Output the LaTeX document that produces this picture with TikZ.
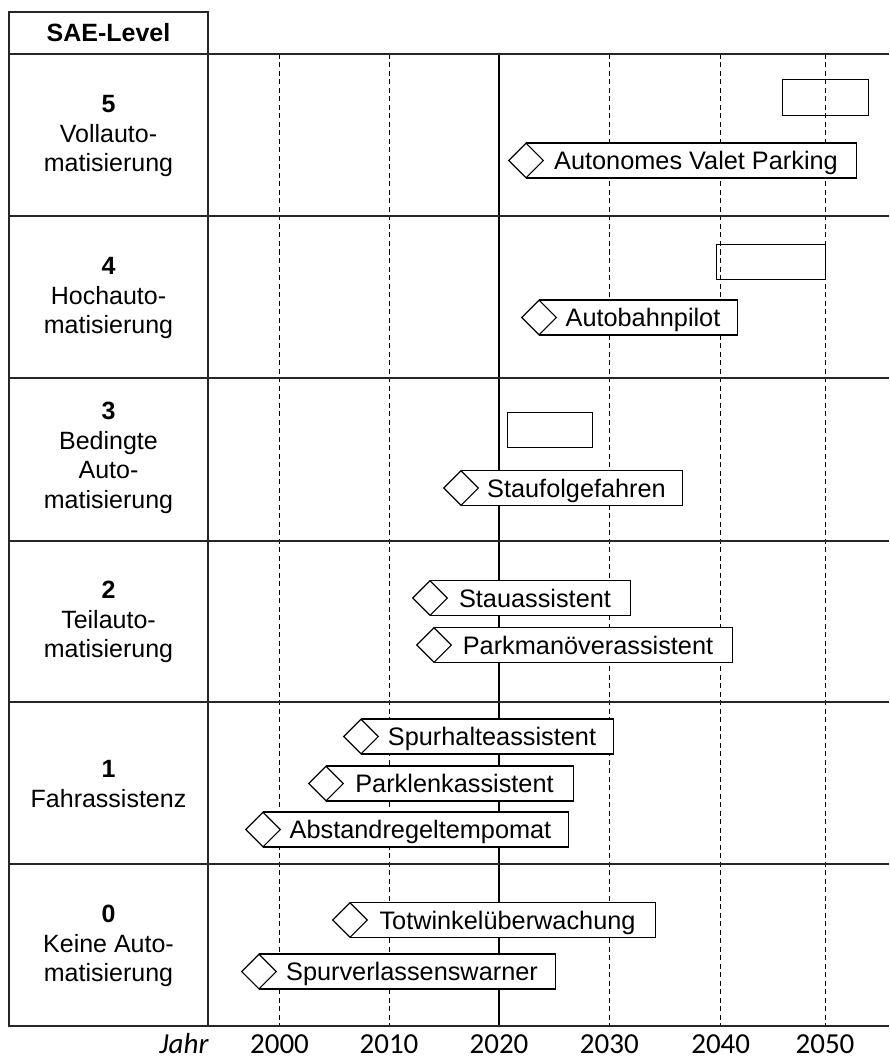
\documentclass[tikz,border=0pt]{standalone}
\usepackage{fontspec}
\setmainfont{Liberation Sans}
\newfontfamily\calib{Carlito}
\usetikzlibrary{shapes.geometric}
\newcommand\gbar[5]{%
  \node[bar, minimum width={#3-#2}] (#1) at (#2,#4) {};
  \node[bartext] (#1t) at ({(#2+#3)/2+5},{#4+9}) {#5};
  \node[mile] (#1d) at (#1.west) {};
}
\begin{document}
\begin{tikzpicture}[x=1pt,y=-1pt,
  frame/.style={line width=1.4pt, draw=black!85},
  gridd/.style={line width=1pt, dash pattern=on 5pt off 3.5pt},
  gridsolid/.style={line width=1.1pt},
  bar/.style={draw, fill=white, line width=1.2pt, minimum height=35pt, inner sep=0pt, anchor=west},
  mile/.style={diamond, draw, fill=white, line width=1.1pt, minimum width=35pt, minimum height=35pt, inner sep=0pt},
  bartext/.style={font=\fontsize{25.3}{29}\selectfont, inner sep=0pt, anchor=base},
  future/.style={draw, line width=1.2pt, inner sep=0pt, anchor=north west},
  lvl/.style={font=\fontsize{25}{29.5}\selectfont, align=center},
  yr/.style={font=\calib\fontsize{29}{32}\selectfont, anchor=base, inner sep=0pt}
]
\useasboundingbox (0,0) rectangle (889,1059);
% grid
\foreach \x in {279.5,389,609.3,720.7,825}{
  \draw[gridd] (\x,54) -- (\x,1026);
}
\draw[gridsolid] (499,54) -- (499,1026);
% frame
\draw[frame] (9,12) rectangle (208,1026);
\foreach \y in {54,216,378,541,702,864,1026}{
  \draw[frame] (9,\y) -- (889,\y);
}
% header and level labels
\node[font=\fontsize{25}{29}\selectfont\bfseries] (hdr) at (108.5,33) {SAE-Level};
\node[lvl] (l5) at (108.5,136) {\textbf{5}\\Vollauto-\\matisierung};
\node[lvl] (l4) at (108.5,298) {\textbf{4}\\Hochauto-\\matisierung};
\node[lvl] (l3) at (108.5,458) {\textbf{3}\\Bedingte\\Auto-\\matisierung};
\node[lvl] (l2) at (108.5,622) {\textbf{2}\\Teilauto-\\matisierung};
\node[lvl] (l1) at (108.5,784) {\textbf{1}\\Fahrassistenz};
\node[lvl] (l0) at (108.5,946) {\textbf{0}\\Keine Auto-\\matisierung};
% future boxes
\node[future, minimum width=86pt, minimum height=36pt] (f5) at (782,79) {};
\node[future, minimum width=109pt, minimum height=35pt] (f4) at (716,244) {};
\node[future, minimum width=85pt, minimum height=35pt] (f3) at (507,412) {};
% bars
\gbar{b1}{526}{856}{160.5}{Autonomes Valet Parking}
\gbar{b2}{539}{737}{317.5}{Autobahnpilot}
\gbar{b3}{461}{682}{488}{Staufolgefahren}
\gbar{b4}{430}{630}{598}{Stauassistent}
\gbar{b5}{434}{732}{645}{Parkmanöverassistent}
\gbar{b6}{361}{613}{736.5}{Spurhalteassistent}
\gbar{b7}{326}{573}{783.5}{Parklenkassistent}
\gbar{b8}{263}{568}{829.5}{Abstandregeltempomat}
\gbar{b9}{350}{655}{920}{Totwinkelüberwachung}
\gbar{b10}{259}{555}{971.5}{Spurverlassenswarner}
% axis labels
\node[yr] (jahr) at (184,1053) {\itshape Jahr};
\node[yr] (y2000) at (279.5,1053) {2000};
\node[yr] (y2010) at (389,1053) {2010};
\node[yr] (y2020) at (499,1053) {2020};
\node[yr] (y2030) at (609.3,1053) {2030};
\node[yr] (y2040) at (720.7,1053) {2040};
\node[yr] (y2050) at (825,1053) {2050};
\end{tikzpicture}
\end{document}
